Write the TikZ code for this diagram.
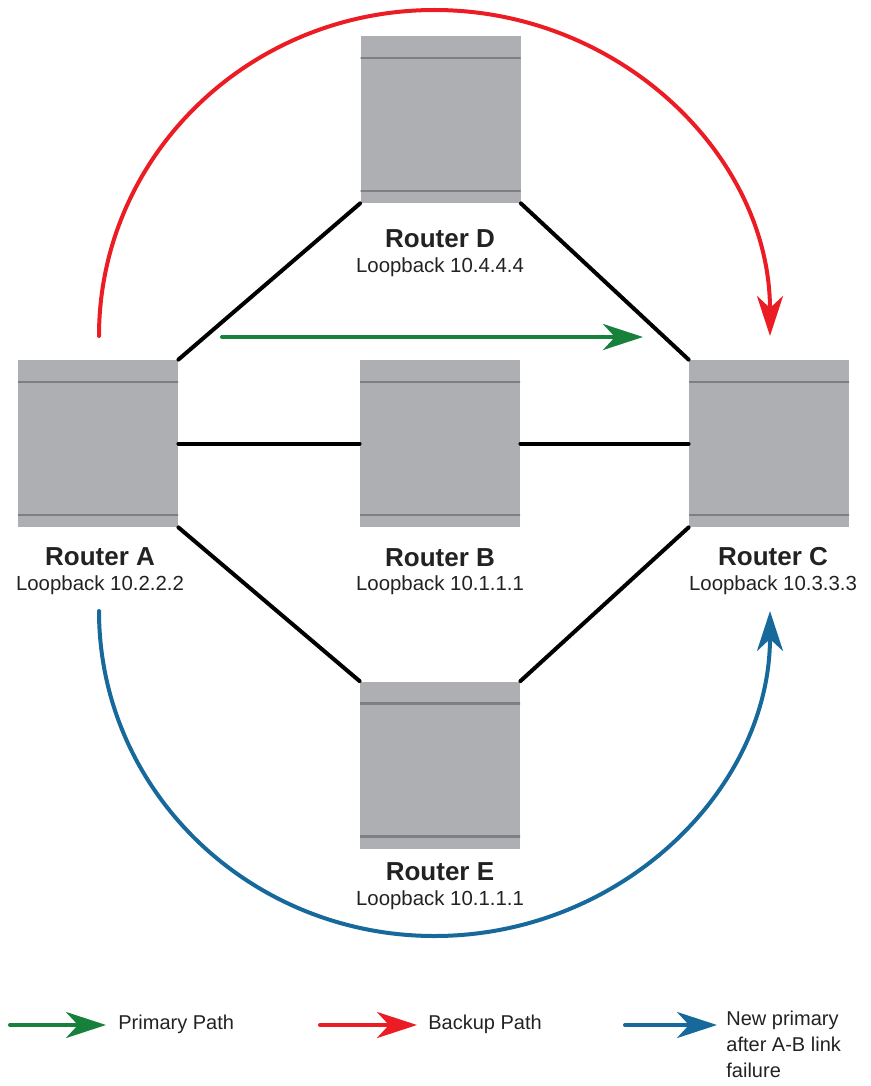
\documentclass[tikz,border=0pt]{standalone}
\usepackage{fontspec}
\setmainfont{Liberation Sans}
\usepackage{xcolor}
\usepackage{tikz}
\usetikzlibrary{arrows.meta}
\tikzset{>={Stealth[length=20pt,width=13pt,inset=6pt]}}
\definecolor{rtgray}{HTML}{AEAFB3}
\definecolor{rtline}{HTML}{7E7F85}
\definecolor{primgreen}{HTML}{17803A}
\definecolor{backred}{HTML}{EC1C24}
\definecolor{newblue}{HTML}{18699B}
\definecolor{txtgray}{HTML}{222222}
\tikzset{
	router/.style={fill=rtgray,minimum width=80pt,minimum height=83.5pt,inner sep=0pt,
		path picture={
			\draw[rtline,line width=1.2pt] ([yshift=-11pt]path picture bounding box.north west) -- ([yshift=-11pt]path picture bounding box.north east);
			\draw[rtline,line width=1.2pt] ([yshift=6pt]path picture bounding box.south west) -- ([yshift=6pt]path picture bounding box.south east);
		}},
	rname/.style={font=\bfseries\fontsize{13}{15}\selectfont,text=txtgray,inner sep=0pt,anchor=base},
	loopb/.style={font=\fontsize{10.2}{12}\selectfont,text=txtgray,inner sep=0pt,anchor=base},
	legtext/.style={font=\fontsize{10}{13}\selectfont,text=txtgray,inner sep=0pt},
	link/.style={black,line width=2pt},
	primary/.style={primgreen,line width=2pt},
	backup/.style={backred,line width=2pt},
	newpath/.style={newblue,line width=2pt}
}

\begin{document}
\begin{tikzpicture}[line cap=round,line join=round,x=0.5pt,y=-0.5pt]
			\useasboundingbox (0,0) rectangle (871,1086);
			\node[router] (A) at (98,443.5) {};
			\node[router] (D) at (440.5,119.5) {};
			\node[router] (B) at (440,443.5) {};
			\node[router] (C) at (769,443.5) {};
			\node[router] (E) at (440,765) {};
			\node[rname] (nameA) at (100,565) {Router A};
			\node[loopb] (lbA) at (100,590) {Loopback 10.2.2.2};
			\node[rname] (nameD) at (440,247) {Router D};
			\node[loopb] (lbD) at (440,272) {Loopback 10.4.4.4};
			\node[rname] (nameB) at (440,566) {Router B};
			\node[loopb] (lbB) at (440,590) {Loopback 10.1.1.1};
			\node[rname] (nameC) at (773,565) {Router C};
			\node[loopb] (lbC) at (773,590) {Loopback 10.3.3.3};
			\node[rname] (nameE) at (440,880) {Router E};
			\node[loopb] (lbE) at (440,905) {Loopback 10.1.1.1};
			\draw[link] (A.north east) -- (D.south west);
			\draw[link] (D.south east) -- (C.north west);
			\draw[link] (A.east) -- (B.west);
			\draw[link] (B.east) -- (C.west);
			\draw[link] (A.south east) -- (E.north west);
			\draw[link] (E.north east) -- (C.south west);
			\coordinate (grS) at (222,337);
			\coordinate (grE) at (643,337);
			\draw[primary,->] (grS) -- (grE);
			\coordinate (rdS) at (99,336);
			\draw[backup,->] (rdS) arc[start angle=180,end angle=360,x radius=335.5,y radius=326];
			\coordinate (blS) at (99,611);
			\draw[newpath,->] (blS) arc[start angle=180,end angle=0,x radius=335.5,y radius=325];
			\coordinate (lgG1) at (10,1025);
			\coordinate (lgG2) at (106,1025);
			\draw[primary,->] (lgG1) -- (lgG2);
			\node[legtext,anchor=west] (lgPrim) at (118,1024) {Primary Path};
			\coordinate (lgR1) at (320,1025);
			\coordinate (lgR2) at (417,1025);
			\draw[backup,->] (lgR1) -- (lgR2);
			\node[legtext,anchor=west] (lgBack) at (428,1024) {Backup Path};
			\coordinate (lgB1) at (625,1025);
			\coordinate (lgB2) at (717,1025);
			\draw[newpath,->] (lgB1) -- (lgB2);
			\node[legtext,anchor=north west,align=left] (lgNew) at (726,1011) {New primary\\after A-B link\\failure};
			\end{tikzpicture}
\end{document}
